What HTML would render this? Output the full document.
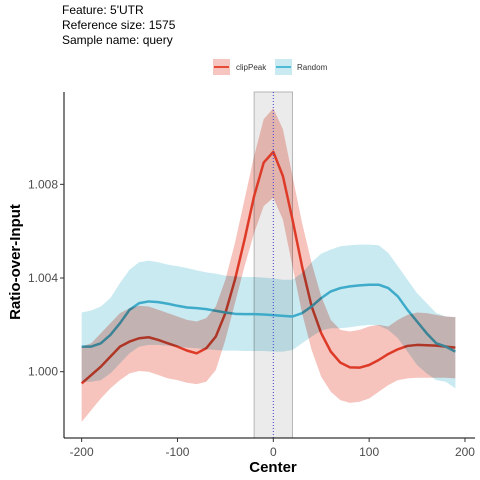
<!DOCTYPE html>
<html><head><meta charset="utf-8"><style>
body{margin:0;background:#fff}
svg{display:block;font-family:"Liberation Sans",Arial,sans-serif}
</style></head><body>
<svg id="chart" width="480" height="480" viewBox="0 0 480 480">
<g font-size="12" fill="#000">
<text x="62" y="14">Feature: 5'UTR</text>
<text x="62" y="29">Reference size: 1575</text>
<text x="62" y="44">Sample name: query</text>
</g>
<g font-size="8" fill="#333">
<g>
<rect x="213" y="59" width="17" height="16" fill="#F6C5BF"/>
<line x1="214" y1="67" x2="229" y2="67" stroke="#E64B35" stroke-width="2"/>
<text x="236" y="70">clipPeak</text></g>
<g>
<rect x="275" y="59" width="17" height="16" fill="#C9EAF1"/>
<line x1="276" y1="67" x2="291" y2="67" stroke="#4DBBD5" stroke-width="2"/>
<text x="297" y="70">Random</text></g>
</g>
<g id="plot"></g>
<text x="273" y="472" font-size="15" font-weight="bold" text-anchor="middle">Center</text>
<text transform="translate(20,262) rotate(-90)" font-size="15" font-weight="bold" text-anchor="middle">Ratio-over-Input</text>
</svg>
<script>
const xs=[-200,-190,-180,-170,-160,-150,-140,-130,-120,-110,-100,-90,-80,-70,-60,-50,-40,-30,-20,-10,0,10,20,30,40,50,60,70,80,90,100,110,120,130,140,150,160,170,180,190];
const redZ=[910,885,860,830,800,785,775,772,780,790,800,812,820,805,770,700,600,480,350,250,218,290,420,560,680,760,815,848,862,863,855,840,822,808,798,795,796,797,800,803];
const redUpZ=[800,790,760,730,700,685,678,680,690,700,710,720,725,715,680,600,490,360,230,120,88,150,290,430,550,650,720,750,755,750,740,735,740,720,705,698,700,705,710,712];
const redLoZ=[1025,990,955,925,900,880,873,875,885,895,900,908,912,905,870,780,670,560,460,380,355,420,560,700,810,890,935,960,968,965,955,935,915,900,895,893,893,893,893,895];
const blueZ=[800,800,790,765,730,690,670,665,667,672,678,683,685,688,693,698,702,703,703,704,706,708,710,700,680,655,635,625,620,617,615,615,625,650,690,725,760,790,800,815];
const blueUpZ=[698,692,680,655,610,570,548,543,548,555,560,565,572,578,582,588,590,592,592,594,596,600,600,580,548,522,510,500,497,495,495,497,520,560,600,640,670,700,710,712];
const blueLoZ=[905,905,900,880,850,820,800,795,795,797,800,803,805,808,810,812,812,813,813,813,815,815,810,790,770,752,745,745,742,738,735,737,750,775,815,855,880,900,905,925];
const conv=a=>a.map(z=>1+(875-z)/70000);
const red=conv(redZ),redUp=conv(redUpZ),redLo=conv(redLoZ),blue=conv(blueZ),blueUp=conv(blueUpZ),blueLo=conv(blueLoZ);
const xTicks=[-200,-100,0,100,200];
const yTicks=[1.000,1.004,1.008];
const yTickLabels=["1.000","1.004","1.008"];
const X=v=>273.3+v*0.9583;
const Y=v=>371.7-(v-1)*23420;
const NS="http://www.w3.org/2000/svg";
const plot=document.getElementById('plot');
function mk(t,a,p){const e=document.createElementNS(NS,t);for(const k in a)e.setAttribute(k,a[k]);(p||plot).appendChild(e);return e;}
// center region
let r=mk('rect',{x:X(-20),y:92,width:X(20)-X(-20),height:346,fill:'#EBEBEB',stroke:'#B5B5B5','stroke-width':1});


function band(up,lo,fill,name){let d='M'+xs.map((x,i)=>X(x)+','+Y(up[i])).join('L')+'L'+xs.slice().reverse().map((x,j)=>{const i=xs.length-1-j;return X(x)+','+Y(lo[i]);}).join('L')+'Z';
const p=mk('path',{d:d,fill:fill,style:'mix-blend-mode:multiply'});

}
function line(v,c,name){const p=mk('path',{d:'M'+xs.map((x,i)=>X(x)+','+Y(v[i])).join('L'),fill:'none',stroke:c,'stroke-width':2.5,'stroke-linejoin':'round'});

}
line(red,'#E64B35','clippeak-line');
line(blue,'#4DBBD5','random-line');
band(redUp,redLo,'#F6C3BD','clippeak-ribbon');
band(blueUp,blueLo,'#C9EAF1','random-ribbon');
let dl=mk('line',{x1:X(0),x2:X(0),y1:92,y2:438,stroke:'#4040D0','stroke-width':1,'stroke-dasharray':'1,2'});


// axes
let ax=mk('line',{x1:64,x2:475,y1:438,y2:438,stroke:'#000','stroke-width':1});


let ay=mk('line',{x1:64,x2:64,y1:92,y2:438,stroke:'#000','stroke-width':1});


xTicks.forEach(v=>{mk('line',{x1:X(v),x2:X(v),y1:438,y2:442,stroke:'#333'});
const t=mk('text',{x:X(v),y:456,'font-size':12,fill:'#4D4D4D','text-anchor':'middle'});t.textContent=v;

});
yTicks.forEach((v,i)=>{mk('line',{x1:60,x2:64,y1:Y(v),y2:Y(v),stroke:'#333'});
const t=mk('text',{x:58,y:Y(v)+4,'font-size':12,fill:'#4D4D4D','text-anchor':'end'});t.textContent=yTickLabels[i];

});
</script>
</body></html>
